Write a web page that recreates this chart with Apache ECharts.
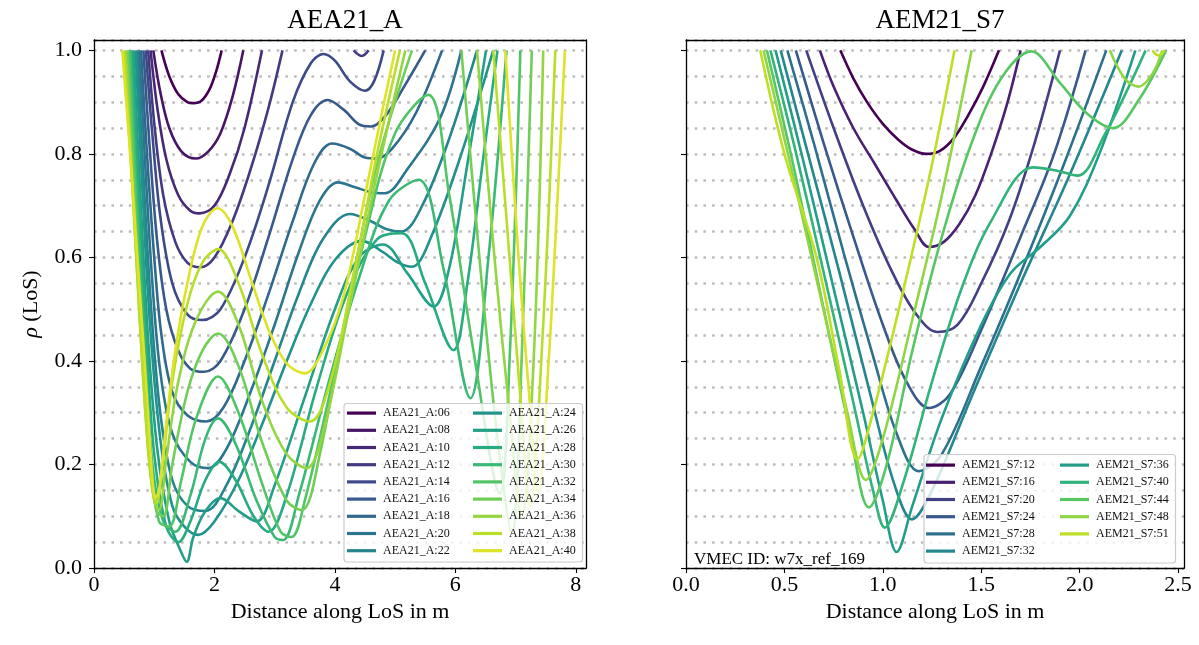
<!DOCTYPE html>
<html><head><meta charset="utf-8">
<script src="https://cdn.jsdelivr.net/npm/echarts@6/dist/echarts.min.js"></script>
<style>html,body{margin:0;padding:0;background:#fff}#c{width:1199px;height:645px}</style>
</head><body><div id="c"></div>
<script>
// ---------------- data ----------------
const leftNames = ['AEA21_A:06','AEA21_A:08','AEA21_A:10','AEA21_A:12','AEA21_A:14','AEA21_A:16','AEA21_A:18','AEA21_A:20','AEA21_A:22','AEA21_A:24','AEA21_A:26','AEA21_A:28','AEA21_A:30','AEA21_A:32','AEA21_A:34','AEA21_A:36','AEA21_A:38','AEA21_A:40'];
const rightNames = ['AEM21_S7:12','AEM21_S7:16','AEM21_S7:20','AEM21_S7:24','AEM21_S7:28','AEM21_S7:32','AEM21_S7:36','AEM21_S7:40','AEM21_S7:44','AEM21_S7:48','AEM21_S7:51'];
const leftXTicks = [0,2,4,6,8];
const rightXTicks = [0,0.5,1,1.5,2,2.5];
const yTicks = [0,0.2,0.4,0.6,0.8,1.0];

const A06 = [[1.12,1],[1.25,0.95],[1.4,0.915],[1.55,0.9],[1.65,0.898],[1.78,0.902],[1.92,0.925],[2.03,0.96],[2.12,1]];
const A08 = [[0.985,1],[1.1,0.92],[1.25,0.85],[1.45,0.805],[1.69,0.791],[1.9,0.805],[2.1,0.84],[2.3,0.91],[2.48,1]];
const A10 = [[0.94,1],[1.05,0.89],[1.2,0.79],[1.4,0.72],[1.6,0.69],[1.75,0.685],[2.0,0.7],[2.25,0.76],[2.5,0.85],[2.79,1]];
const A12 = [[0.9,1],[1.0,0.86],[1.15,0.72],[1.35,0.63],[1.55,0.59],[1.76,0.581],[2.0,0.6],[2.3,0.67],[2.6,0.77],[2.9,0.89],[3.13,1]];
const A12b = [[4.31,1],[4.45,0.989],[4.56,1]];
const A14 = [[0.86,1],[0.96,0.85],[1.1,0.68],[1.3,0.55],[1.55,0.49],[1.8,0.479],[2.1,0.5],[2.5,0.6],[2.9,0.74],[3.3,0.9],[3.6,0.975],[3.81,0.993],[4.0,0.98],[4.25,0.94],[4.5,0.922],[4.65,0.94],[4.81,1]];
const A16 = [[0.82,1],[0.92,0.82],[1.05,0.63],[1.2,0.5],[1.4,0.42],[1.6,0.385],[1.83,0.379],[2.1,0.4],[2.5,0.5],[2.9,0.64],[3.3,0.79],[3.6,0.875],[3.88,0.904],[4.15,0.885],[4.4,0.857],[4.6,0.853],[4.85,0.875],[5.15,0.93],[5.5,1]];
const A18 = [[0.78,1],[0.88,0.8],[1.0,0.6],[1.12,0.45],[1.3,0.34],[1.55,0.295],[1.86,0.283],[2.15,0.31],[2.5,0.4],[2.9,0.53],[3.3,0.67],[3.65,0.78],[3.95,0.82],[4.25,0.81],[4.5,0.793],[4.7,0.791],[4.95,0.81],[5.35,0.88],[5.78,1]];
const A20 = [[0.75,1],[0.85,0.78],[0.97,0.55],[1.1,0.38],[1.3,0.26],[1.6,0.205],[1.9,0.193],[2.2,0.23],[2.6,0.34],[3.0,0.47],[3.4,0.61],[3.75,0.71],[4.05,0.745],[4.35,0.735],[4.6,0.726],[4.83,0.724],[5.2,0.77],[5.75,0.87],[6.1,1]];
const A22 = [[0.72,1],[0.82,0.76],[0.95,0.5],[1.1,0.3],[1.3,0.17],[1.55,0.12],[1.85,0.11],[2.2,0.16],[2.6,0.27],[3.0,0.4],[3.4,0.53],[3.8,0.635],[4.25,0.684],[4.6,0.67],[4.85,0.655],[5.11,0.65],[5.45,0.7],[5.9,0.83],[6.36,1]];
const A24 = [[0.69,1],[0.8,0.74],[0.93,0.47],[1.1,0.25],[1.3,0.12],[1.5,0.08],[1.73,0.064],[2.0,0.09],[2.4,0.17],[2.8,0.28],[3.2,0.4],[3.6,0.51],[4.0,0.595],[4.45,0.632],[4.8,0.61],[5.05,0.59],[5.28,0.582],[5.6,0.64],[6.1,0.8],[6.63,1]];
const A26 = [[0.655,1],[0.77,0.72],[0.9,0.44],[1.05,0.23],[1.25,0.09],[1.45,0.03],[1.54,0.012],[1.65,0.06],[1.85,0.11],[2.1,0.135],[2.4,0.11],[2.7,0.09],[3.0,0.16],[3.5,0.33],[4.0,0.5],[4.4,0.6],[4.8,0.625],[5.2,0.57],[5.64,0.505],[5.9,0.58],[6.2,0.78],[6.51,1]];
const A28 = [[0.63,1],[0.75,0.7],[0.88,0.42],[1.0,0.22],[1.2,0.08],[1.4,0.05],[1.6,0.09],[1.85,0.17],[2.08,0.205],[2.35,0.17],[2.65,0.1],[2.9,0.07],[3.2,0.14],[3.7,0.35],[4.2,0.53],[4.7,0.635],[5.11,0.647],[5.5,0.55],[5.97,0.421],[6.2,0.55],[6.45,0.78],[6.7,1]];
const A30 = [[0.605,1],[0.72,0.7],[0.85,0.42],[0.97,0.2],[1.15,0.09],[1.35,0.07],[1.6,0.14],[1.85,0.25],[2.06,0.289],[2.35,0.24],[2.7,0.13],[3.0,0.06],[3.14,0.054],[3.4,0.14],[3.9,0.36],[4.4,0.56],[4.9,0.71],[5.39,0.75],[5.8,0.58],[6.25,0.328],[6.55,0.6],[6.85,1]];
const A32 = [[0.58,1],[0.7,0.7],[0.82,0.42],[0.94,0.2],[1.08,0.09],[1.25,0.08],[1.45,0.17],[1.7,0.29],[2.06,0.37],[2.4,0.3],[2.8,0.16],[3.1,0.07],[3.28,0.06],[3.5,0.13],[4.0,0.38],[4.5,0.64],[5.0,0.84],[5.55,0.914],[5.9,0.72],[6.3,0.42],[6.74,0.144],[6.9,0.4],[7.08,1]];
const A34 = [[0.555,1],[0.67,0.72],[0.8,0.43],[0.92,0.21],[1.04,0.11],[1.15,0.1],[1.3,0.2],[1.55,0.34],[1.8,0.42],[2.06,0.453],[2.4,0.39],[2.8,0.24],[3.2,0.13],[3.45,0.112],[3.75,0.22],[4.2,0.5],[4.7,0.78],[5.28,1]];
const A34b = [[6.1,1],[6.4,0.6],[6.7,0.25],[6.94,0.067],[7.1,0.4],[7.27,1]];
const A36 = [[0.53,1],[0.64,0.74],[0.77,0.46],[0.9,0.23],[1.0,0.13],[1.08,0.112],[1.2,0.21],[1.4,0.36],[1.7,0.48],[2.06,0.534],[2.4,0.47],[2.8,0.32],[3.2,0.22],[3.53,0.193],[3.8,0.26],[4.2,0.48],[4.7,0.76],[5.17,1]];
const A36b = [[6.36,1],[6.65,0.6],[6.9,0.3],[7.1,0.1],[7.3,0.4],[7.46,1]];
const A38 = [[0.5,1],[0.62,0.77],[0.75,0.5],[0.87,0.27],[0.97,0.15],[1.04,0.125],[1.12,0.18],[1.3,0.36],[1.55,0.51],[1.8,0.59],[2.06,0.616],[2.4,0.55],[2.8,0.41],[3.2,0.31],[3.59,0.283],[3.9,0.35],[4.3,0.56],[4.7,0.8],[5.08,1]];
const A38b = [[6.63,1],[6.9,0.6],[7.1,0.3],[7.24,0.12],[7.45,0.45],[7.66,1]];
const A40 = [[0.47,1],[0.6,0.8],[0.72,0.6],[0.84,0.4],[0.93,0.24],[0.98,0.16],[1.02,0.135],[1.08,0.15],[1.2,0.28],[1.35,0.42],[1.55,0.55],[1.8,0.66],[2.05,0.695],[2.3,0.66],[2.6,0.56],[2.9,0.46],[3.2,0.395],[3.5,0.376],[3.8,0.42],[4.14,0.524],[4.5,0.72],[4.8,0.89],[5.0,1]];
const A40b = [[6.83,1],[7.05,0.6],[7.25,0.3],[7.38,0.144],[7.55,0.4],[7.7,0.72],[7.82,1]];

const S12 = [[0.784,1],[0.85,0.946],[0.92,0.9],[1.0,0.858],[1.08,0.827],[1.15,0.808],[1.22,0.8],[1.29,0.806],[1.36,0.83],[1.43,0.872],[1.51,0.93],[1.59,1]];
const S16 = [[0.68,1],[0.75,0.93],[0.85,0.85],[0.96,0.78],[1.07,0.71],[1.16,0.655],[1.234,0.62],[1.31,0.63],[1.39,0.665],[1.47,0.72],[1.55,0.8],[1.63,0.895],[1.7,1]];
const S20 = [[0.611,1],[0.75,0.85],[0.9,0.7],[1.05,0.57],[1.17,0.49],[1.277,0.456],[1.38,0.47],[1.5,0.55],[1.64,0.67],[1.77,0.82],[1.9,1]];
const S24 = [[0.558,1],[0.7,0.82],[0.85,0.64],[1.0,0.47],[1.12,0.36],[1.234,0.309],[1.34,0.335],[1.5,0.46],[1.7,0.64],[1.87,0.8],[2.03,1]];
const S28 = [[0.515,1],[0.65,0.82],[0.8,0.61],[0.95,0.41],[1.07,0.26],[1.183,0.187],[1.3,0.22],[1.5,0.39],[1.7,0.57],[1.92,0.78],[2.135,1]];
const S32 = [[0.481,1],[0.62,0.8],[0.78,0.57],[0.94,0.33],[1.06,0.16],[1.148,0.094],[1.25,0.15],[1.45,0.33],[1.7,0.55],[1.95,0.76],[2.214,1]];
const S36 = [[0.455,1],[0.6,0.78],[0.75,0.54],[0.9,0.3],[1.0,0.13],[1.07,0.031],[1.15,0.12],[1.3,0.29],[1.5,0.47],[1.65,0.57],[1.8,0.62],[1.95,0.68],[2.1,0.8],[2.283,1]];
const S40 = [[0.429,1],[0.56,0.8],[0.7,0.57],[0.85,0.32],[0.95,0.15],[1.01,0.078],[1.1,0.16],[1.25,0.36],[1.4,0.54],[1.55,0.67],[1.762,0.774],[1.88,0.768],[1.99,0.758],[2.127,0.837],[2.25,0.93],[2.335,1]];
const S44 = [[0.411,1],[0.55,0.77],[0.7,0.5],[0.83,0.27],[0.93,0.117],[1.02,0.2],[1.15,0.42],[1.3,0.64],[1.45,0.82],[1.6,0.945],[1.754,0.998],[1.9,0.937],[2.04,0.877],[2.17,0.85],[2.3,0.904],[2.439,1]];
const S48 = [[0.394,1],[0.53,0.78],[0.68,0.53],[0.82,0.3],[0.914,0.17],[1.0,0.25],[1.15,0.48],[1.3,0.72],[1.451,1]];
const S48b = [[2.153,1],[2.23,0.945],[2.3,0.93],[2.37,0.955],[2.42,1]];
const S51 = [[0.377,1],[0.5,0.8],[0.663,0.6],[0.78,0.38],[0.871,0.21],[0.95,0.3],[1.1,0.53],[1.25,0.78],[1.364,1]];
const S51b = [[2.37,1],[2.40,0.99],[2.43,1]];

const leftCurves = [[A06],[A08],[A10],[A12,A12b],[A14],[A16],[A18],[A20],[A22],[A24],[A26],[A28],[A30],[A32],[A34,A34b],[A36,A36b],[A38,A38b],[A40,A40b]];
const rightCurves = [[S12],[S16],[S20],[S24],[S28],[S32],[S36],[S40],[S44],[S48,S48b],[S51,S51b]];

// ---------------- colours (viridis) ----------------
const VIR = ['#440154','#482475','#414487','#355f8d','#2a788e','#21918c','#22a884','#44bf70','#7ad151','#bddf26','#fde725'];
function viridis(t){
  t=Math.max(0,Math.min(1,t)); const p=t*10, i=Math.min(9,Math.floor(p)), f=p-i;
  const a=VIR[i], b=VIR[i+1];
  const c=k=>Math.round(parseInt(a.substr(k,2),16)*(1-f)+parseInt(b.substr(k,2),16)*f);
  return 'rgb('+c(1)+','+c(3)+','+c(5)+')';
}
const leftColors = leftNames.map((n,i)=>viridis(i/17*0.95));
const rightColors = rightNames.map(n=>{const v=+n.split(':')[1]; return viridis((v-12)/39*0.9);});

// ---------------- chart ----------------
const FONT = 'Liberation Serif';
const G0 = {left:94, top:40, width:492, height:528};
const G1 = {left:686, top:40, width:498, height:528};
const series = [];
function addSeries(names, curves, colors, gi){
  names.forEach((n,i)=>{
    curves[i].forEach(seg=>{
      series.push({type:'line', name:n, data:seg, xAxisIndex:gi*2, yAxisIndex:gi*2,
        smooth:0.35, symbol:'none', showSymbol:false, animation:false, silent:true,
        lineStyle:{width:2.6, color:colors[i]}, itemStyle:{color:colors[i]}, z:2});
    });
  });
}
addSeries(leftNames, leftCurves, leftColors, 0);
addSeries(rightNames, rightCurves, rightColors, 1);

const tickStyle = {show:true, inside:false, length:5, lineStyle:{color:'#000', width:1.1}};
const lblStyle = {fontFamily:FONT, fontSize:22, color:'#000'};
function xMain(gi, max, ticks, fmt){
  return {type:'value', gridIndex:gi, position:'bottom', min:0, max:max, interval:ticks[1]-ticks[0],
    axisLine:{show:true, onZero:false, lineStyle:{color:'#000', width:1.3}},
    axisTick:Object.assign({customValues:ticks}, tickStyle),
    axisLabel:Object.assign({customValues:ticks, margin:6, formatter:fmt}, lblStyle),
    splitLine:{show:false}, z:5,
    name:'Distance along LoS in m', nameLocation:'middle', nameGap:32,
    nameTextStyle:{fontFamily:FONT, fontSize:22, color:'#000'}};
}
function xTop(gi, max){
  return {type:'value', gridIndex:gi, position:'top', min:0, max:max,
    axisLine:{show:true, onZero:false, lineStyle:{color:'#000', width:1.3}},
    axisTick:{show:false}, axisLabel:{show:false}, splitLine:{show:false}, z:5};
}
function yMain(gi, showLabels){
  return {type:'value', gridIndex:gi, position:'left', min:0, max:1.02, interval:0.2,
    axisLine:{show:true, onZero:false, lineStyle:{color:'#000', width:1.3}},
    axisTick:Object.assign({customValues:yTicks}, tickStyle),
    axisLabel:Object.assign({show:showLabels, customValues:yTicks, margin:12, formatter:v=>v.toFixed(1)}, lblStyle),
    splitLine:{show:false}, z:5,
    name: showLabels ? '{i|ρ} (LoS)' : '', nameLocation:'middle', nameGap:52, nameRotate:90,
    nameTextStyle:{fontFamily:FONT, fontSize:22, color:'#000', rich:{i:{fontFamily:FONT, fontStyle:'italic', fontSize:22}}}};
}
function yGrid(gi){
  return {type:'value', gridIndex:gi, position:'right', min:0, max:1.02, interval:0.05,
    axisLine:{show:true, onZero:false, lineStyle:{color:'#000', width:1.3}},
    axisTick:{show:false}, axisLabel:{show:false},
    splitLine:{show:true, lineStyle:{color:'#bdbdbd', width:2.6, type:[2.6,6.1], cap:'butt'}}, z:1};
}

function legendCol(data, left, top){
  return {data:data, left:left, top:top, orient:'vertical', itemGap:3, itemWidth:29, itemHeight:3.2,
    icon:'rect', padding:0, z:11, selectedMode:false,
    textStyle:{fontFamily:FONT, fontSize:12, color:'#111', lineHeight:14.2, padding:[0,0,0,2]}};
}

const option = {
  backgroundColor:'#fff', animation:false,
  title:[
    {text:'AEA21_A', left:340, top:2, textAlign:'center', textStyle:{fontFamily:FONT, fontSize:27, fontWeight:'normal', color:'#000'}},
    {text:'AEM21_S7', left:935, top:2, textAlign:'center', textStyle:{fontFamily:FONT, fontSize:27, fontWeight:'normal', color:'#000'}},
    {text:'VMEC ID: w7x_ref_169', left:689, top:546, textStyle:{fontFamily:FONT, fontSize:17, fontWeight:'normal', color:'#000'}}
  ],
  grid:[Object.assign({containLabel:false}, G0), Object.assign({containLabel:false}, G1)],
  xAxis:[xMain(0, 8.17, leftXTicks, v=>String(v)), xTop(0, 8.17), xMain(1, 2.53, rightXTicks, v=>v.toFixed(1)), xTop(1, 2.53)],
  yAxis:[yMain(0, true), yGrid(0), yMain(1, false), yGrid(1)],
  legend:[
    legendCol(leftNames.slice(0,9), 347, 406),
    legendCol(leftNames.slice(9), 473, 406),
    legendCol(rightNames.slice(0,6), 926, 458),
    legendCol(rightNames.slice(6), 1060, 458)
  ],
  graphic:[
    {type:'rect', z:10, silent:true, shape:{x:344, y:403.5, width:238.5, height:158.5, r:3}, style:{fill:'rgba(255,255,255,0.8)', stroke:'#cccccc', lineWidth:1.2}},
    {type:'rect', z:10, silent:true, shape:{x:924, y:454.5, width:251.5, height:108.5, r:3}, style:{fill:'rgba(255,255,255,0.8)', stroke:'#cccccc', lineWidth:1.2}}
  ],
  series:series
};
const chart = echarts.init(document.getElementById('c'), null, {renderer:'canvas'});
chart.setOption(option);
</script></body></html>
